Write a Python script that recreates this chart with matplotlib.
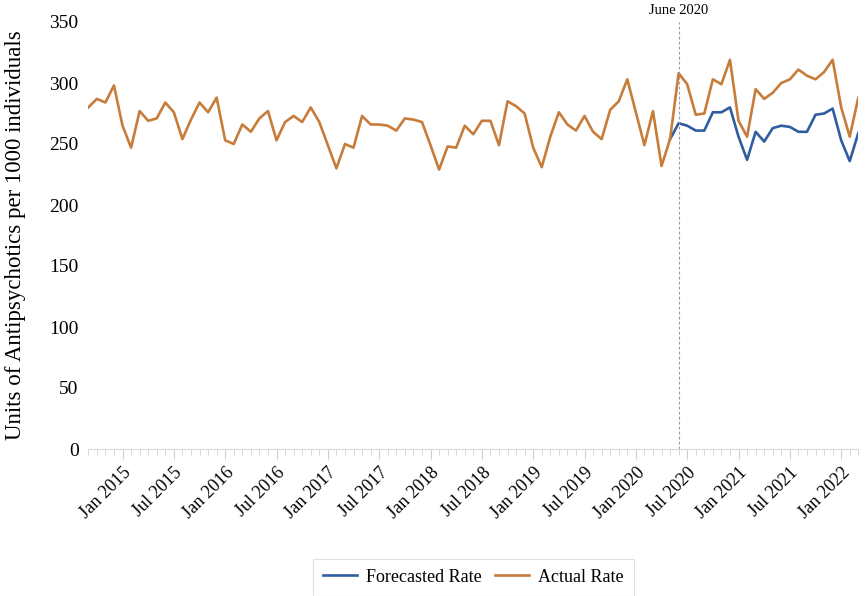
import numpy as np
import pandas as pd
import matplotlib
matplotlib.use("Agg")
import matplotlib.pyplot as plt
from matplotlib.ticker import FixedLocator, MultipleLocator

plt.rcParams['font.family'] = ['Liberation Serif', 'DejaVu Serif']

# monthly series, Sep 2014 .. Mar 2022
months = pd.date_range('2014-09-01', '2022-03-01', freq='MS')

actual_rate = [280, 287, 284, 298, 265, 247, 277, 269, 271, 284, 276, 254,
               270, 284, 276, 288, 253, 250, 266, 260, 271, 277, 253, 268,
               273, 268, 280, 268, 249, 230, 250, 247, 273, 266, 266, 265,
               261, 271, 270, 268, 249, 229, 248, 247, 265, 258, 269, 269,
               249, 285, 281, 275, 247, 231, 256, 276, 266, 261, 273, 260,
               254, 278, 285, 303, 276, 249, 277, 232, 254, 308, 299, 274,
               275, 303, 299, 319, 269, 256, 295, 287, 292, 300, 303, 311,
               306, 303, 309, 319, 280, 256, 288]

# forecast starts from May 2020 (joined to the actual value)
forecast_start = pd.Timestamp('2020-05-01')
forecast_rate = [254, 267, 265, 261, 261, 276, 276, 280, 256, 237, 260, 252,
                 263, 265, 264, 260, 260, 274, 275, 279, 253, 236, 259]

cutoff = pd.Timestamp('2020-06-01')
cutoff_label = 'June 2020'

x = np.arange(len(months))
i0 = list(months).index(forecast_start)
xf = x[i0:i0 + len(forecast_rate)]

fig = plt.figure(figsize=(8.67, 5.96), dpi=100)
ax = fig.add_axes([88.3 / 867, 1 - 449 / 596, (858.3 - 88.3) / 867, 427 / 596])

ax.plot(xf, forecast_rate, color='#2f5d9f', lw=1.9, label='Forecasted Rate')
ax.plot(x, actual_rate, color='#c77c3a', lw=1.9, label='Actual Rate')

xc = list(months).index(cutoff)
ax.axvline(xc, color='#9a9a9a', ls=(0, (2.5, 2)), lw=0.8, ymax=1.0, clip_on=False)
ax.text(xc, 354, cutoff_label, ha='center', va='bottom', fontsize=10.5)

ax.set_xlim(0, len(months) - 1)
ax.set_ylim(0, 350)
ax.yaxis.set_major_locator(MultipleLocator(50))

major_idx = [i for i, m in enumerate(months) if m.month in (1, 7)]
major_lbl = [months[i].strftime('%b %Y') for i in major_idx]
ax.xaxis.set_major_locator(FixedLocator(major_idx))
ax.xaxis.set_minor_locator(MultipleLocator(1))
ax.set_xticklabels(major_lbl, rotation=45, ha='right', va='top',
                   rotation_mode='anchor', fontsize=13)
ax.tick_params(axis='x', which='major', length=7, color='#d0d0d0', pad=4)
ax.tick_params(axis='x', which='minor', length=4, color='#d0d0d0')
ax.tick_params(axis='y', length=0, labelsize=14, pad=7)

for s in ['top', 'right', 'left']:
    ax.spines[s].set_visible(False)
ax.spines['bottom'].set_color('#d9d9d9')
ax.spines['bottom'].set_linewidth(0.8)

ax.set_ylabel('Units of Antipsychotics per 1000 individuals', fontsize=16.5, labelpad=17)

leg = ax.legend(loc='center', bbox_to_anchor=(0.5, -0.30), ncol=2, fontsize=13,
                frameon=True, fancybox=False, edgecolor='#d9d9d9',
                handlelength=1.9, handletextpad=0.5, columnspacing=0.7,
                borderpad=0.55)
leg.get_frame().set_linewidth(0.8)

fig.savefig('out.png', dpi=100)
